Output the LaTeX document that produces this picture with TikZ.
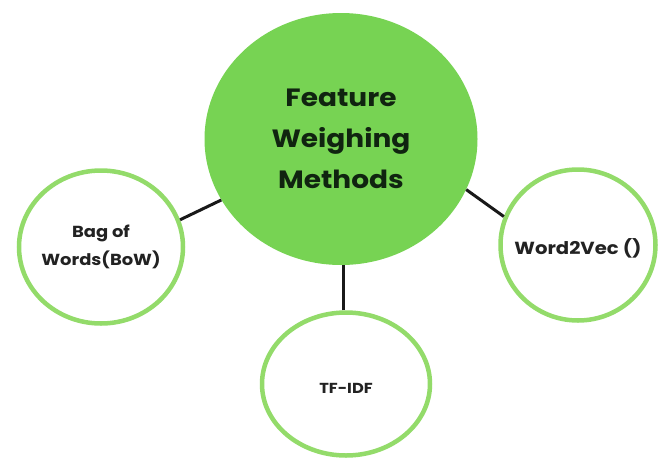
\documentclass[tikz,border=0pt]{standalone}
\usepackage{fontspec}
\setmainfont{Poppins}[FakeStretch=1.12]
\usetikzlibrary{shapes.geometric}
\definecolor{hubgreen}{RGB}{119,211,83}
\definecolor{ringgreen}{RGB}{147,219,106}
\definecolor{hubtext}{RGB}{16,36,16}
\definecolor{leaftext}{RGB}{34,34,34}
\begin{document}
\begin{tikzpicture}[x=1pt,y=-1pt,hub/.style={shape=ellipse,fill=hubgreen,inner sep=0pt,align=center,text=hubtext,font=\bfseries\fontsize{25}{41}\selectfont},leaf/.style={shape=ellipse,draw=ringgreen,line width=4.5pt,fill=white,inner sep=0pt},leafname/.style={align=center,text=leaftext,inner sep=0pt,font=\bfseries\fontsize{16}{28}\selectfont},link/.style={line width=3pt,black!90}]
\useasboundingbox (0,0) rectangle (659,464);

\node[hub,minimum width=273pt,minimum height=252pt] (fwm) at (341,139) {Feature\\Weighing\\Methods};

\node[leaf,minimum width=164pt,minimum height=153pt,label={[leafname]center:{Bag of\\Words(BoW)}}] (bow) at (101,247) {};
\node[leaf,minimum width=155pt,minimum height=151pt,label={[leafname,font=\bfseries\fontsize{17.5}{28}\selectfont,yshift=-3pt]center:Word2Vec ()}] (w2v) at (578,245) {};
\node[leaf,minimum width=168pt,minimum height=143pt,label={[leafname,font=\bfseries\fontsize{14.5}{28}\selectfont,yshift=-4pt]center:TF-IDF}] (tfidf) at (346,384) {};

\draw[link] (bow.19) -- (fwm.207);
\draw[link] (w2v.159) -- (fwm.338);
\draw[link] (tfidf.north -| 343,0) -- (343,265);
\end{tikzpicture}
\end{document}
